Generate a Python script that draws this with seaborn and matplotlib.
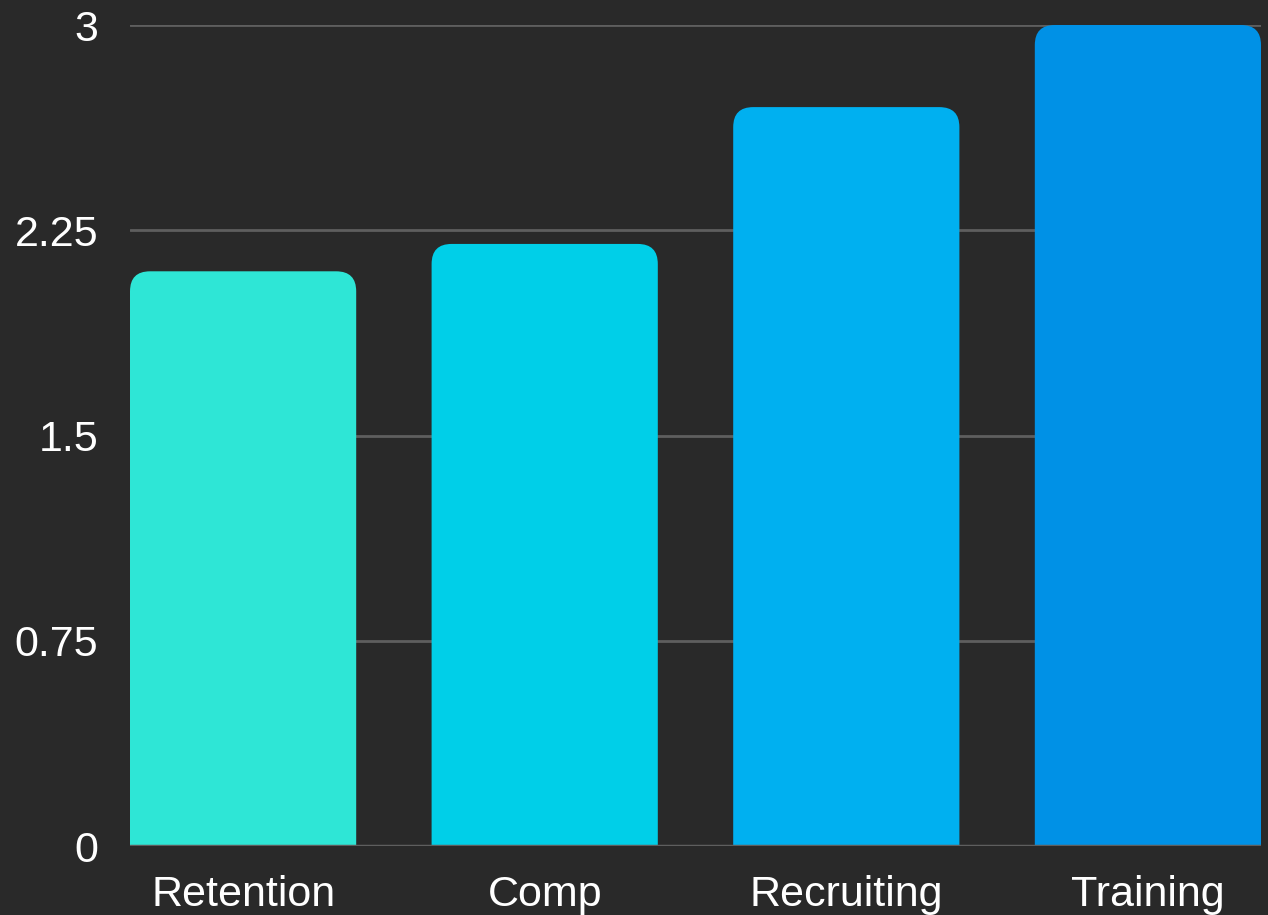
import matplotlib
matplotlib.use("Agg")
import matplotlib.pyplot as plt
import seaborn as sns
import pandas as pd
from matplotlib.patches import FancyBboxPatch

categories = ["Retention", "Comp", "Recruiting", "Training"]
values = [2.10, 2.20, 2.70, 3.00]
colors = ["#2EE6D6", "#00CFE8", "#00B0F0", "#0091E6"]
yticks = [0, 0.75, 1.5, 2.25, 3]
ytick_labels = ["0", "0.75", "1.5", "2.25", "3"]

BG = "#292929"
GRID = "#5e5e5e"

sns.set_theme(style="dark")
plt.rcParams["font.family"] = ["Liberation Sans", "DejaVu Sans"]

fig = plt.figure(figsize=(12.68, 9.15), dpi=100, facecolor=BG)
ax = fig.add_axes([130 / 1268, 1 - 846 / 915, (1261 - 130) / 1268, (846 - 25) / 915])
ax.set_facecolor(BG)

df = pd.DataFrame({"cat": categories, "val": values})
sns.barplot(data=df, x="cat", y="val", hue="cat", palette=colors, legend=False,
            width=0.75, ax=ax, saturation=1, zorder=2)

ax.set_xlim(-0.375, 3.375)
ax.set_ylim(0, 3)

# rounded top corners
fig.canvas.draw()
px_x = ax.transData.transform((1, 0))[0] - ax.transData.transform((0, 0))[0]
px_y = ax.transData.transform((0, 1))[1] - ax.transData.transform((0, 0))[1]
r_px = 20
r_x = r_px / px_x
aspect = (r_px / px_y) / r_x
for p in list(ax.patches):
    x, y = p.get_x(), p.get_y()
    w, h = p.get_width(), p.get_height()
    fc = p.get_facecolor()
    p.remove()
    extra = r_px / px_y * 2
    fb = FancyBboxPatch((x, y - extra), w, h + extra,
                        boxstyle=f"round,pad=0,rounding_size={r_x}",
                        mutation_aspect=aspect, facecolor=fc, edgecolor="none",
                        zorder=2)
    ax.add_patch(fb)

ax.set_yticks(yticks)
ax.set_yticklabels(ytick_labels)
ax.grid(axis="y", color=GRID, linewidth=2, zorder=0)
ax.grid(axis="x", visible=False)
ax.set_axisbelow(True)
ax.axhline(0, color=GRID, linewidth=2.5, zorder=3)

for s in ax.spines.values():
    s.set_visible(False)

ax.tick_params(axis="both", length=0, labelsize=31, labelcolor="white")
ax.tick_params(axis="y", pad=23)
ax.tick_params(axis="x", pad=21)
ax.set_xlabel("")
ax.set_ylabel("")

fig.savefig("out.png", dpi=100, facecolor=BG)
